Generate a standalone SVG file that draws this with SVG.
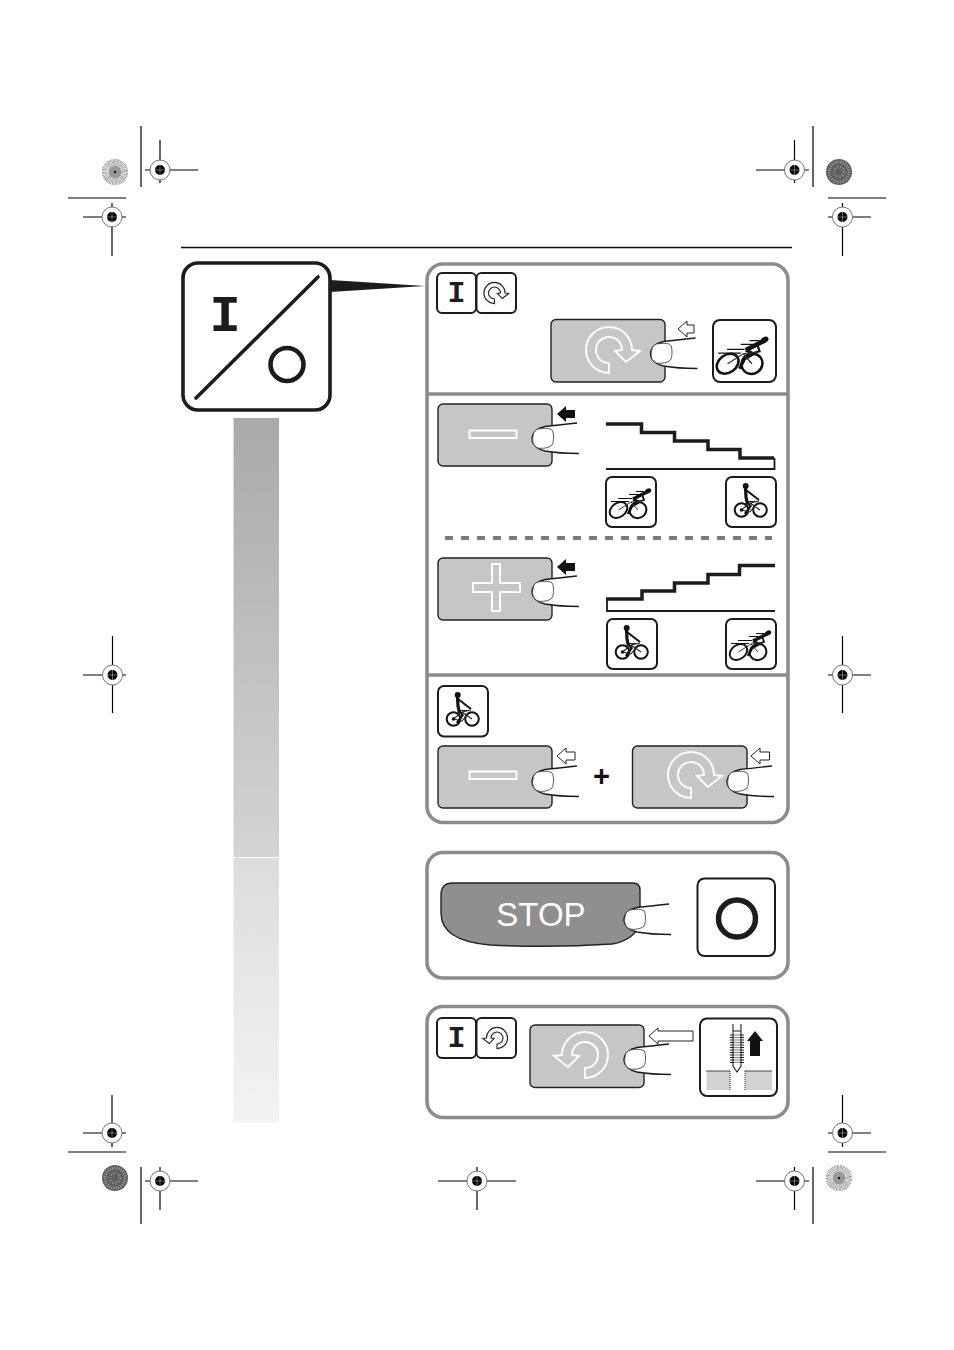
<svg xmlns="http://www.w3.org/2000/svg" xmlns:xlink="http://www.w3.org/1999/xlink" width="954" height="1350" viewBox="0 0 954 1350">
<style>
.panel{fill:#fff;stroke:#8c8c8c;stroke-width:3.6}
.div{fill:none;stroke:#8c8c8c;stroke-width:3.6}
.btn{fill:#c6c6c6;stroke:#222;stroke-width:1.4}
.box{fill:#fff;stroke:#1c1c1c;stroke-width:2}
.wht{fill:none;stroke:#fff;stroke-width:2}
.thin{fill:none;stroke:#1a1a1a;stroke-width:1.3}
.crop{stroke:#000;stroke-width:1.2;fill:none}
.arr{fill:#fff;stroke:#222;stroke-width:1}
.blk{fill:#111;stroke:none}
.mono{font-family:"Liberation Mono",monospace;font-weight:700;fill:#1c1c1c;text-anchor:middle}
</style>
<defs>
<linearGradient id="g1" x1="0" y1="0" x2="0" y2="1"><stop offset="0" stop-color="#a9a9a9"/><stop offset="1" stop-color="#d4d4d4"/></linearGradient>
<linearGradient id="g2" x1="0" y1="0" x2="0" y2="1"><stop offset="0" stop-color="#dcdcdc"/><stop offset="1" stop-color="#f3f3f3"/></linearGradient>
<path id="rot" d="M0,23A23,23 0 1 1 23,0L31,1L17,12L6,1L13,0A13,13 0 1 0 0,13Z"/>
<g id="finger">
<path d="M25,19C15,20 5,21 -7,22.500C-15,24 -20,29 -20,35C-20,41 -14,45.500 -7,47C4,49 15,49.500 27,49.500V19Z" fill="#fff"/>
<path class="thin" d="M25,19C15,20 5,21 -7,22.500C-15,24 -20,29 -20,35C-20,41 -14,45.500 -7,47C4,49 15,49.500 27,49.500"/>
<path d="M-14,25C-8,24 -2,24 0,26C2,28 2,38 0,41C-3,44 -10,45 -14,44C-19,42 -20,37 -19,32C-18.500,28 -17,26 -14,25Z" fill="#fff" stroke="#444" stroke-width="0.900"/>
</g>
<g id="rider">
<circle cx="19.700" cy="9" r="3" fill="#111"/>
<path d="M19.500,11L20,20L21.500,27" fill="none" stroke="#111" stroke-width="3.200"/>
<path d="M20,13L33,23" fill="none" stroke="#111" stroke-width="2"/>
<path d="M21,25L24.500,29L19,37" fill="none" stroke="#111" stroke-width="2.400"/>
<circle cx="15.500" cy="33" r="6.800" fill="none" stroke="#111" stroke-width="2"/>
<circle cx="34" cy="33" r="6.800" fill="none" stroke="#111" stroke-width="2"/>
<path d="M15.500,33L24,26L33,24M24,26L34,33M15.500,33L24,35L31,26M22,24.500H29" fill="none" stroke="#222" stroke-width="1.100"/>
<circle cx="15.500" cy="33" r="1.800" fill="#111"/>
</g>
<g id="fast">
<ellipse cx="42" cy="14" rx="3.400" ry="2.400" transform="rotate(-30 42 14)" fill="#111"/>
<path d="M41,15L27,22" fill="none" stroke="#111" stroke-width="3.600"/>
<path d="M27,22L33,25L26,29L22,37" fill="none" stroke="#111" stroke-width="2.600"/>
<path d="M36,17L38,23L31,25" fill="none" stroke="#111" stroke-width="1.800"/>
<ellipse cx="12.500" cy="33" rx="9.500" ry="7" transform="rotate(-35 12.500 33)" fill="none" stroke="#111" stroke-width="2"/>
<ellipse cx="32" cy="33" rx="8.500" ry="8" transform="rotate(-35 32 33)" fill="none" stroke="#111" stroke-width="2"/>
<path d="M5,24.500H23M12,21.500H26M23,17.500H33M30,14.500H38" fill="none" stroke="#111" stroke-width="1"/>
<path d="M12.500,33L25,25L36,24M25,25L32,33" fill="none" stroke="#333" stroke-width="1"/>
</g>
<g id="reg">
<circle r="10" fill="#fff" stroke="#666" stroke-width="0.900"/>
<circle r="5" fill="#000"/>
<path d="M-5,0H5M0,-5V5" stroke="#fff" stroke-width="0.400"/>
</g>
<g id="burstL">
<circle r="13" fill="#888"/>
<circle r="9.500" fill="none" stroke="#fff" stroke-width="7" stroke-dasharray="0.620 0.620"/>
<circle r="6" fill="#999"/>
<circle r="1.200" fill="#111"/>
</g>
<g id="burstD">
<circle r="13" fill="#5e5e5e"/>
<circle r="10" fill="none" stroke="#9a9a9a" stroke-width="3" stroke-dasharray="1 1.300"/>
<circle r="5" fill="none" stroke="#8c8c8c" stroke-width="3" stroke-dasharray="1.200 1.800"/>
</g>
</defs>
<rect width="954" height="1350" fill="#fff"/>

<g id="crop-marks">
<path class="crop" d="M141,126V187M813,126V187M141,1167V1224M813,1167V1224M68,198H126M828,198H886M68,1152H126M828,1152H886"/>
<path class="crop" d="M145,170H198M160,140V183M756,170H809M794.500,140V183M83,217H126M112,203V256M828,217H871M842.500,203V256"/>
<path class="crop" d="M83,675H126M112.500,636V713M828,675H871M842.500,636V713M83,1133H126M112,1095V1147M828,1133H871M842.500,1095V1147"/>
<path class="crop" d="M145,1181H198M160,1167V1210M438,1181H516M477,1167V1210M756,1181H809M794.500,1167V1210"/>
<use href="#reg" x="160" y="170"/><use href="#reg" x="794.500" y="170"/><use href="#reg" x="112" y="217"/><use href="#reg" x="842.500" y="217"/>
<use href="#reg" x="112.500" y="675"/><use href="#reg" x="842.500" y="675"/><use href="#reg" x="112" y="1133"/><use href="#reg" x="842.500" y="1133"/>
<use href="#reg" x="160" y="1181"/><use href="#reg" x="477" y="1181"/><use href="#reg" x="794.500" y="1181"/>
<use href="#burstL" x="115" y="172"/><use href="#burstD" x="839" y="172"/><use href="#burstD" x="115" y="1178"/><use href="#burstL" x="839" y="1178"/>
</g>

<path d="M181,247.500H792" stroke="#111" stroke-width="1.300" fill="none"/>

<g id="side-bar">
<rect x="233.500" y="418" width="45.500" height="439" fill="url(#g1)"/>
<rect x="233.500" y="858" width="45.500" height="264.500" fill="url(#g2)"/>
</g>

<g id="connectors">
<path d="M330,280L425,286L330,292Z" fill="#1c1c1c"/>
</g>

<g id="main-symbol">
<rect x="183" y="263" width="147" height="147" rx="15" fill="#fff" stroke="#1c1c1c" stroke-width="3.600"/>
<path d="M196,398L318,277" stroke="#1c1c1c" stroke-width="3.600" stroke-linecap="round"/>
<text class="mono" x="225" y="331" font-size="52">I</text>
<circle cx="287" cy="364.500" r="16.500" fill="none" stroke="#1c1c1c" stroke-width="4.600"/>
</g>

<g id="panel-speed">
<rect class="panel" x="427" y="264" width="361" height="558.500" rx="16"/>
<path class="div" d="M427,394H788M427,675H788"/>
</g>

<g id="start-icons">
<rect class="box" x="437" y="273" width="39" height="40" rx="5"/>
<text class="mono" x="456.500" y="302" font-size="30">I</text>
<rect class="box" x="476.500" y="273" width="39.500" height="40" rx="5"/>
<use href="#rot" transform="translate(494.500 293) scale(0.46)" fill="none" stroke="#222" stroke-width="2.400"/>
</g>

<g id="button-run">
<rect class="btn" x="551" y="319.500" width="114" height="62.500" rx="5"/>
<use href="#rot" x="609" y="350" class="wht"/>
<use href="#finger" x="670.500" y="319"/>
<path class="arr" d="M678,329L687,321V325H694V333H687V337Z"/>
</g>
<g id="icon-fast-large">
<rect class="box" x="713" y="320" width="63" height="62" rx="7"/>
<use href="#fast" transform="translate(712 322.500) scale(1.250)"/>
</g>

<g id="button-minus">
<rect class="btn" x="438" y="404" width="114" height="62" rx="5"/>
<rect class="wht" x="469.500" y="430.500" width="47" height="7.500"/>
<use href="#finger" x="552" y="404"/>
<path class="blk" d="M557,414L566,406V410H575V418H566V422Z"/>
</g>
<g id="stairs-down">
<path d="M606,424H641.500V432.500H674.500V441H708V449.500H740V458H774" fill="none" stroke="#1c1c1c" stroke-width="3.500"/>
<path d="M774.500,458V469H606" fill="none" stroke="#1c1c1c" stroke-width="1.800"/>
</g>
<g id="icon-fast-1"><rect class="box" x="606" y="477" width="50" height="50" rx="6"/><use href="#fast" x="606" y="477"/></g>
<g id="icon-rider-1"><rect class="box" x="726" y="477" width="50" height="50" rx="6"/><use href="#rider" x="726" y="477"/></g>

<path id="dash" d="M445,538H772" fill="none" stroke="#7a7a7a" stroke-width="4" stroke-dasharray="8 8"/>

<g id="button-plus">
<rect class="btn" x="438" y="558" width="114" height="62" rx="5"/>
<path class="wht" d="M492,564H500V583H520V592H500V611H492V592H473V583H492Z"/>
<use href="#finger" x="552" y="557"/>
<path class="blk" d="M557,567L566,559V563H575V571H566V575Z"/>
</g>
<g id="stairs-up">
<path d="M606,599H642V591H674.500V583H708V574.500H739.500V565.500H775" fill="none" stroke="#1c1c1c" stroke-width="3.500"/>
<path d="M607,599V611H775" fill="none" stroke="#1c1c1c" stroke-width="1.800"/>
</g>
<g id="icon-rider-2"><rect class="box" x="607" y="619" width="50" height="50" rx="6"/><use href="#rider" x="607" y="619"/></g>
<g id="icon-fast-2"><rect class="box" x="726" y="619" width="50" height="50" rx="6"/><use href="#fast" x="726" y="619"/></g>

<g id="icon-rider-3"><rect class="box" x="438" y="686" width="50" height="50.500" rx="6"/><use href="#rider" x="438" y="686"/></g>
<g id="button-minus-2">
<rect class="btn" x="438" y="746" width="114" height="62" rx="5"/>
<rect class="wht" x="469.500" y="771.500" width="47" height="7.500"/>
<use href="#finger" x="552" y="747"/>
<path class="arr" d="M557,756L566,748V752H575V760H566V764Z"/>
</g>
<text id="plus-sign" x="601.500" y="785.500" font-family="'Liberation Sans',sans-serif" font-weight="700" font-size="29" fill="#111" text-anchor="middle">+</text>
<g id="button-run-2">
<rect class="btn" x="632.500" y="746" width="114.500" height="62" rx="5"/>
<use href="#rot" x="691" y="775" class="wht"/>
<use href="#finger" x="747" y="747"/>
<path class="arr" d="M751,756L760,748V752H769.500V760H760V764Z"/>
</g>

<g id="panel-stop">
<rect class="panel" x="427" y="852.500" width="361" height="125.500" rx="16"/>
</g>
<g id="button-stop">
<path d="M441,895Q441,883 453,883H633Q640,883 640,890V925Q632,941 612,944Q550,948 490,945Q441,941 441,913Z" fill="#8f8f8f" stroke="#222" stroke-width="1.400"/>
<text x="541" y="926" font-family="'Liberation Sans',Arial,sans-serif" font-size="33" fill="#fff" text-anchor="middle">STOP</text>
<use href="#finger" x="644" y="885"/>
</g>
<g id="icon-off">
<rect class="box" x="697.500" y="878.500" width="77.500" height="77.500" rx="7"/>
<circle cx="737" cy="918.500" r="18.500" fill="none" stroke="#1c1c1c" stroke-width="5.500"/>
</g>

<g id="panel-reverse">
<rect class="panel" x="427" y="1006.500" width="361" height="111" rx="16"/>
</g>
<g id="reverse-icons">
<rect class="box" x="437" y="1018" width="39" height="40" rx="5"/>
<text class="mono" x="456.500" y="1047" font-size="30">I</text>
<rect class="box" x="476.500" y="1018" width="39.500" height="40" rx="5"/>
<use href="#rot" transform="translate(497 1038) scale(-0.46 0.46)" fill="none" stroke="#222" stroke-width="2.400"/>
</g>
<g id="button-reverse">
<rect class="btn" x="530" y="1025" width="114" height="62.500" rx="5"/>
<use href="#rot" transform="translate(585 1055) scale(-1 1)" class="wht"/>
<use href="#finger" x="644" y="1025"/>
<path class="arr" d="M649,1036L658,1028V1031H693V1041H658V1044Z"/>
</g>
<g id="icon-retract">
<rect class="box" x="700" y="1018.500" width="77" height="77.500" rx="7"/>
<rect x="706.500" y="1071" width="23.500" height="19" fill="#d2d2d2"/>
<rect x="745" y="1071" width="27" height="19" fill="#d2d2d2"/>
<path d="M706,1071H730M745,1071H772" stroke="#222" stroke-width="0.800" fill="none"/>
<path d="M730,1071V1090M745,1071V1090" stroke="#222" stroke-width="1" stroke-dasharray="1 1" fill="none"/>
<path d="M733,1024V1066L737,1072L741,1066V1024" fill="none" stroke="#222" stroke-width="1.100"/>
<path d="M733,1031H741" stroke="#222" stroke-width="1"/>
<path d="M730,1035H744M730,1037.500H744M730,1040H744M730,1042.500H744M730,1045H744M730,1047.500H744M730,1050H744M730,1052.500H744M730,1055H744M730,1057.500H744M730,1060H744M730,1062.500H744" stroke="#222" stroke-width="1.200" fill="none"/>
<rect x="734" y="1033" width="6" height="30" fill="#ddd" opacity="0.600"/>
<path class="blk" d="M755,1031L763,1041H760V1056H750V1041H747Z"/>
</g>
</svg>
